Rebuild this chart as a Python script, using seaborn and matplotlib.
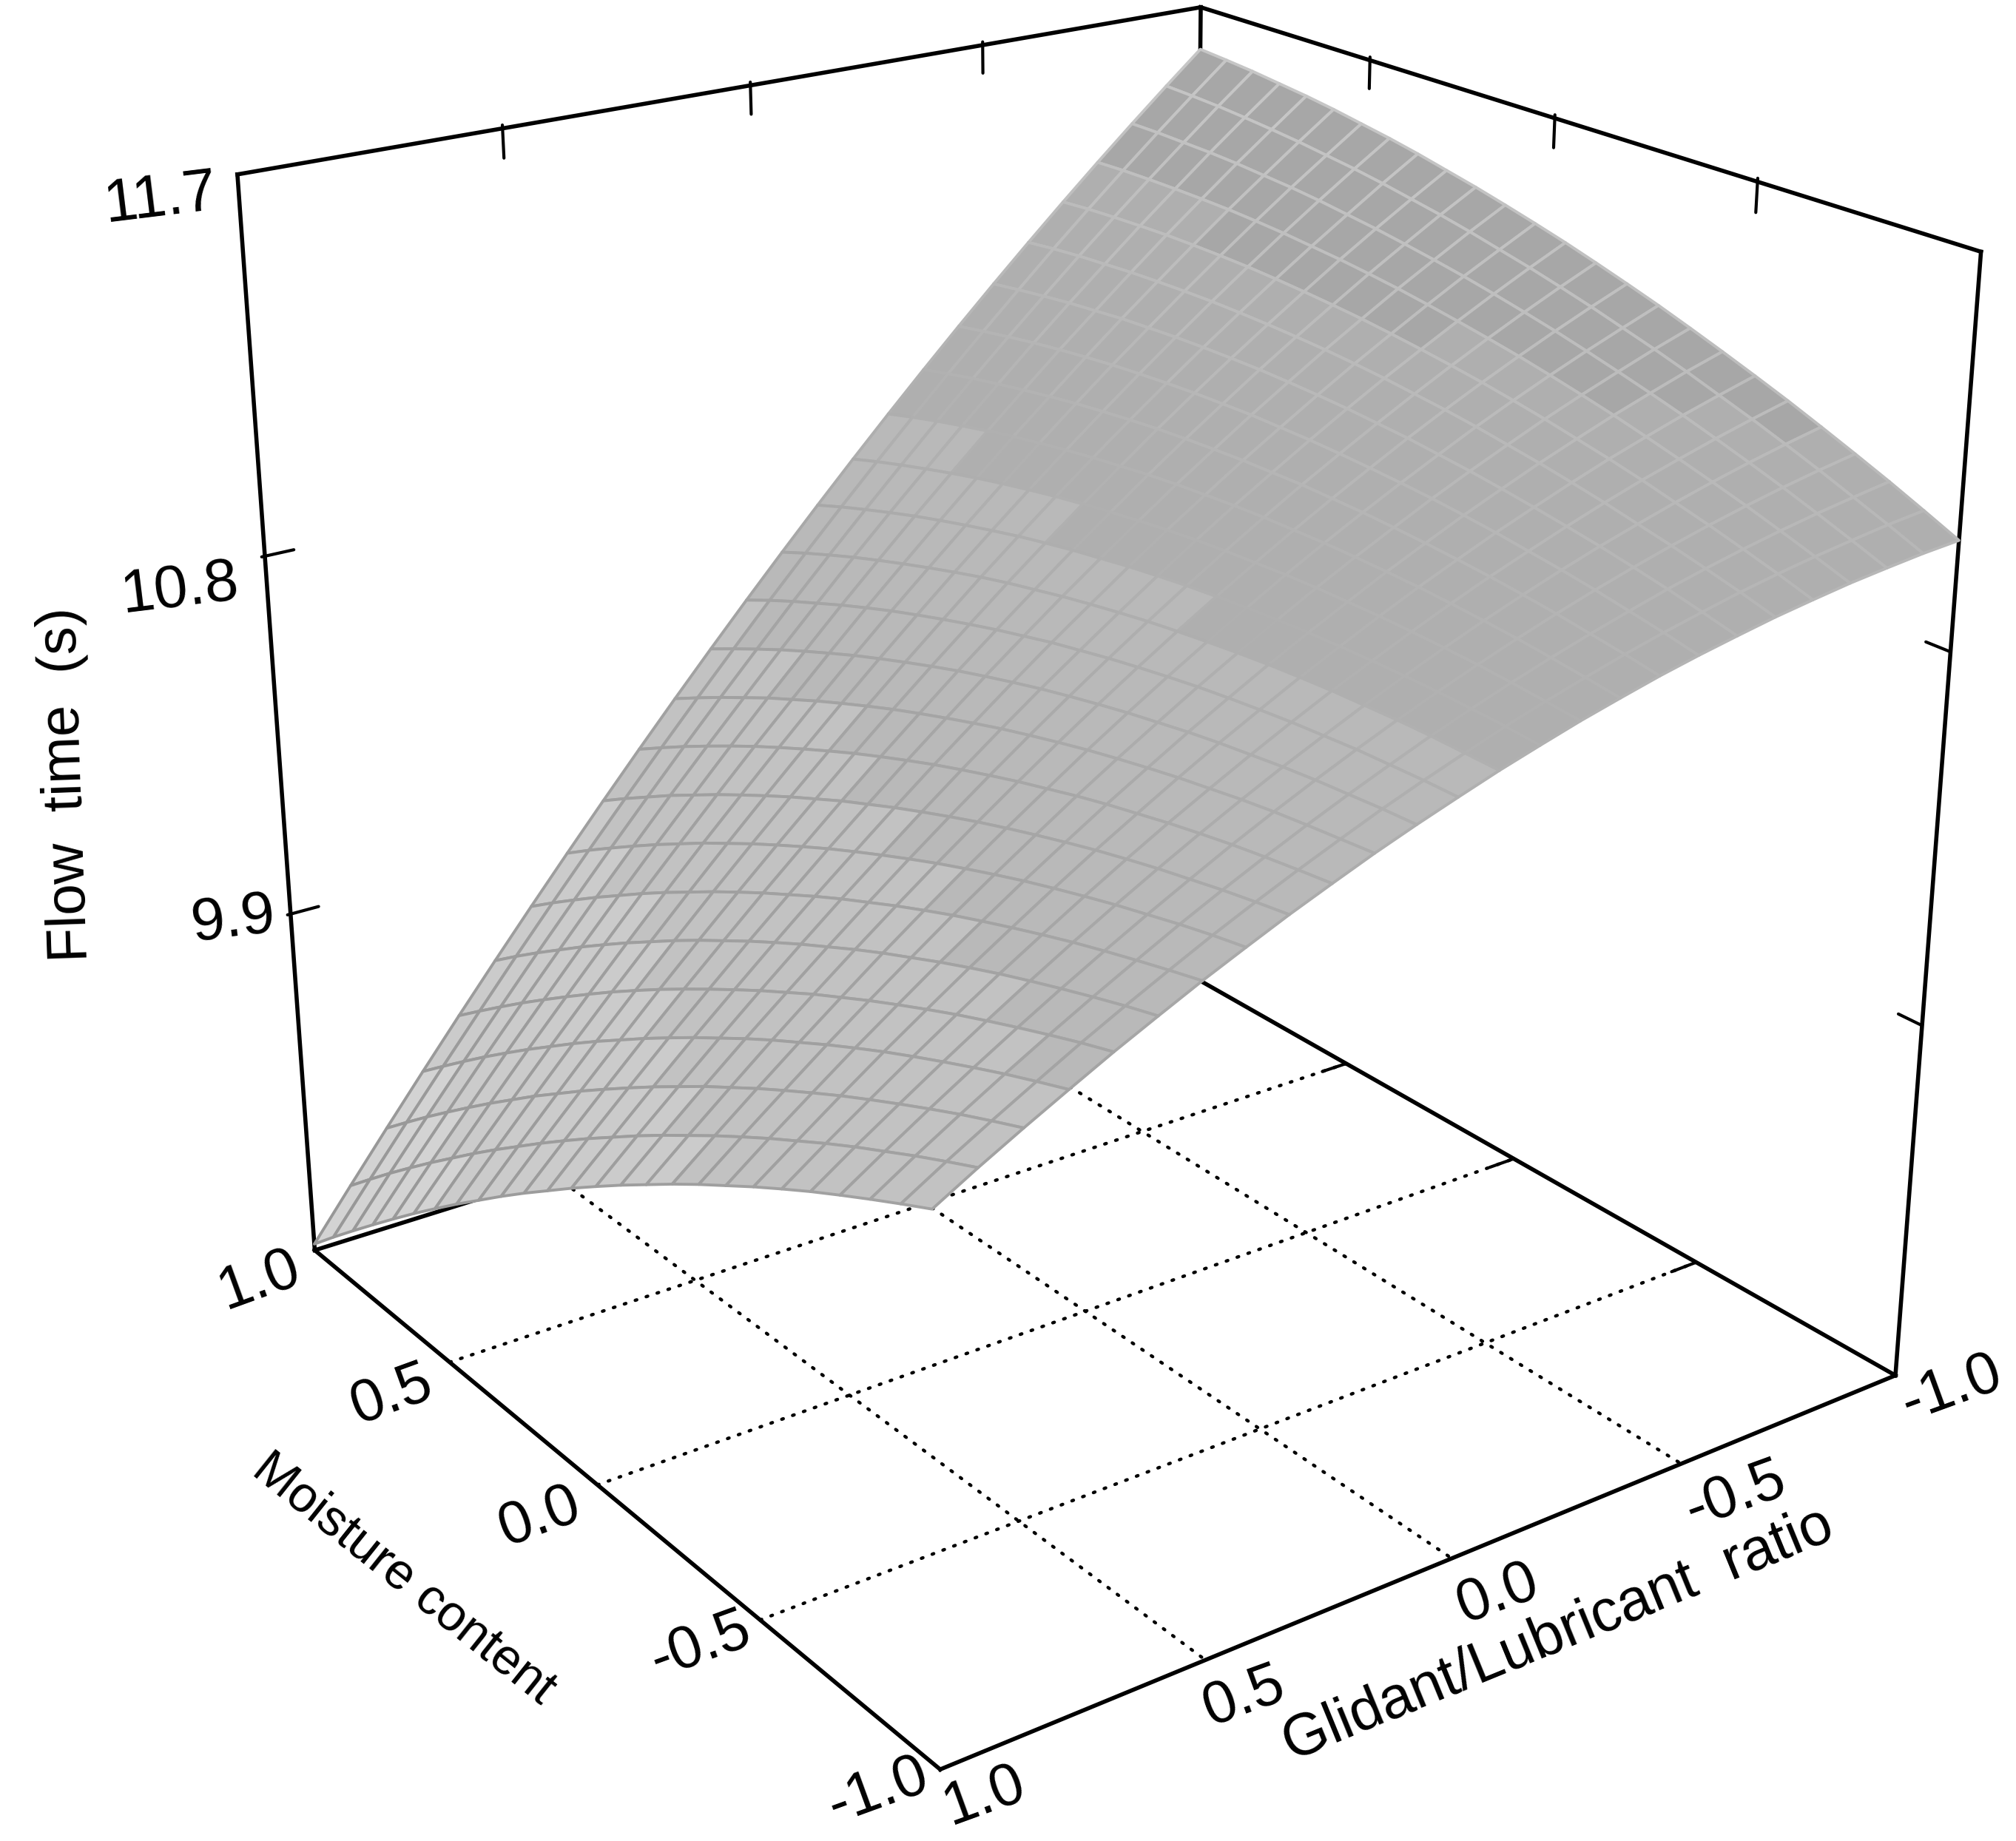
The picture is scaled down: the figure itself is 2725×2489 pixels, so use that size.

import numpy as np
import matplotlib
matplotlib.use('Agg')
import matplotlib.pyplot as plt
import seaborn as sns

sns.set_theme(style='white')
plt.rcParams['font.family'] = ['Liberation Sans', 'DejaVu Sans']

moisture = [1.00, 0.92, 0.84, 0.76, 0.68, 0.60, 0.52, 0.44, 0.36, 0.28, 0.20, 0.12, 0.04,
            -0.04, -0.12, -0.20, -0.28, -0.36, -0.44, -0.52, -0.60, -0.68, -0.76, -0.84, -0.92, -1.00]
glidant = [1.00, 0.92, 0.84, 0.76, 0.68, 0.60, 0.52, 0.44, 0.36, 0.28, 0.20, 0.12, 0.04,
           -0.04, -0.12, -0.20, -0.28, -0.36, -0.44, -0.52, -0.60, -0.68, -0.76, -0.84, -0.92, -1.00]
flow_time = [
 [9.017,9.144,9.269,9.392,9.513,9.632,9.749,9.864,9.977,10.088,10.197,10.304,10.409,10.512,10.613,10.712,10.809,10.904,10.997,11.088,11.177,11.264,11.349,11.432,11.513,11.592],
 [9.083,9.207,9.329,9.449,9.567,9.684,9.798,9.910,10.020,10.128,10.234,10.338,10.441,10.541,10.639,10.735,10.829,10.921,11.011,11.099,11.186,11.270,11.352,11.432,11.510,11.586],
 [9.147,9.269,9.388,9.505,9.620,9.734,9.845,9.954,10.061,10.167,10.270,10.371,10.471,10.568,10.663,10.756,10.848,10.937,11.024,11.109,11.193,11.274,11.353,11.430,11.506,11.579],
 [9.210,9.329,9.445,9.560,9.672,9.782,9.891,9.997,10.102,10.204,10.304,10.403,10.499,10.594,10.686,10.776,10.865,10.951,11.036,11.118,11.198,11.277,11.353,11.428,11.500,11.570],
 [9.272,9.388,9.501,9.613,9.722,9.830,9.935,10.039,10.140,10.240,10.338,10.433,10.527,10.618,10.708,10.795,10.881,10.964,11.046,11.125,11.203,11.279,11.352,11.424,11.493,11.561],
 [9.333,9.445,9.556,9.665,9.771,9.876,9.979,10.079,10.178,10.275,10.369,10.462,10.553,10.641,10.728,10.813,10.896,10.976,11.055,11.132,11.206,11.279,11.350,11.418,11.485,11.550],
 [9.392,9.502,9.609,9.715,9.819,9.921,10.021,10.119,10.214,10.308,10.400,10.490,10.578,10.663,10.747,10.829,10.909,10.987,11.063,11.136,11.208,11.278,11.346,11.412,11.475,11.537],
 [9.450,9.557,9.662,9.765,9.866,9.964,10.061,10.156,10.249,10.340,10.429,10.516,10.601,10.684,10.765,10.844,10.921,10.996,11.069,11.140,11.209,11.276,11.341,11.404,11.465,11.524],
 [9.506,9.610,9.712,9.813,9.911,10.007,10.101,10.193,10.283,10.371,10.457,10.541,10.623,10.704,10.782,10.858,10.932,11.004,11.074,11.142,11.208,11.272,11.334,11.394,11.453,11.509],
 [9.562,9.663,9.762,9.859,9.955,10.048,10.139,10.228,10.315,10.401,10.484,10.565,10.644,10.722,10.797,10.870,10.941,11.011,11.078,11.143,11.206,11.267,11.327,11.384,11.439,11.492],
 [9.616,9.714,9.810,9.905,9.997,10.087,10.176,10.262,10.347,10.429,10.509,10.588,10.664,10.738,10.811,10.881,10.950,11.016,11.080,11.143,11.203,11.261,11.318,11.372,11.425,11.475],
 [9.668,9.764,9.857,9.949,10.038,10.126,10.211,10.295,10.376,10.456,10.533,10.609,10.682,10.754,10.823,10.891,10.957,11.020,11.082,11.141,11.199,11.254,11.308,11.359,11.409,11.456],
 [9.720,9.812,9.903,9.992,10.078,10.163,10.246,10.326,10.405,10.482,10.556,10.629,10.700,10.768,10.835,10.900,10.962,11.023,11.081,11.138,11.193,11.245,11.296,11.345,11.391,11.436],
 [9.770,9.860,9.947,10.033,10.117,10.199,10.279,10.356,10.432,10.506,10.578,10.648,10.715,10.781,10.845,10.907,10.967,11.024,11.080,11.134,11.186,11.235,11.283,11.329,11.373,11.415],
 [9.819,9.906,9.991,10.074,10.154,10.233,10.310,10.385,10.458,10.529,10.598,10.665,10.730,10.793,10.854,10.913,10.970,11.025,11.077,11.128,11.177,11.224,11.269,11.312,11.353,11.392],
 [9.866,9.950,10.032,10.113,10.191,10.267,10.341,10.413,10.483,10.551,10.617,10.681,10.743,10.803,10.861,10.917,10.971,11.023,11.073,11.122,11.168,11.212,11.254,11.294,11.332,11.368],
 [9.913,9.994,10.073,10.150,10.225,10.299,10.370,10.439,10.506,10.571,10.635,10.696,10.755,10.812,10.867,10.921,10.972,11.021,11.068,11.113,11.157,11.198,11.237,11.274,11.309,11.343],
 [9.958,10.036,10.112,10.187,10.259,10.329,10.398,10.464,10.528,10.591,10.651,10.709,10.766,10.820,10.872,10.923,10.971,11.017,11.062,11.104,11.144,11.183,11.219,11.253,11.286,11.316],
 [10.001,10.077,10.150,10.222,10.291,10.359,10.424,10.488,10.549,10.609,10.666,10.722,10.775,10.827,10.876,10.923,10.969,11.012,11.054,11.093,11.131,11.166,11.200,11.231,11.261,11.288],
 [10.044,10.116,10.187,10.256,10.322,10.387,10.449,10.510,10.569,10.625,10.680,10.733,10.783,10.832,10.878,10.923,10.966,11.006,11.045,11.081,11.116,11.149,11.179,11.208,11.234,11.259],
 [10.085,10.155,10.222,10.288,10.352,10.414,10.473,10.531,10.587,10.641,10.692,10.742,10.790,10.836,10.879,10.921,10.961,10.999,11.034,11.068,11.100,11.130,11.157,11.183,11.207,11.229],
 [10.125,10.192,10.256,10.319,10.380,10.439,10.496,10.551,10.604,10.655,10.704,10.751,10.795,10.838,10.879,10.918,10.955,10.990,11.023,11.054,11.082,11.109,11.134,11.157,11.178,11.197],
 [10.163,10.227,10.289,10.349,10.407,10.463,10.517,10.569,10.619,10.668,10.714,10.758,10.800,10.840,10.878,10.914,10.948,10.980,11.010,11.038,11.064,11.088,11.110,11.130,11.148,11.164],
 [10.200,10.262,10.321,10.378,10.433,10.486,10.537,10.587,10.634,10.679,10.722,10.763,10.802,10.840,10.875,10.908,10.939,10.968,10.995,11.021,11.044,11.065,11.084,11.101,11.116,11.130],
 [10.236,10.295,10.351,10.405,10.458,10.508,10.556,10.603,10.647,10.689,10.729,10.768,10.804,10.838,10.871,10.901,10.929,10.956,10.980,11.002,11.023,11.041,11.057,11.071,11.084,11.094],
 [10.271,10.327,10.380,10.431,10.481,10.528,10.574,10.617,10.659,10.698,10.736,10.771,10.804,10.836,10.865,10.893,10.918,10.942,10.963,10.982,11.000,11.015,11.029,11.040,11.050,11.057],
]
grid_ticks = [0.5, 0.0, -0.5]
z_ticks = [9.9, 10.8, 11.7]
axis_tick_labels = ['1.0', '0.5', '0.0', '-0.5', '-1.0']
z_tick_labels = ['9.9', '10.8', '11.7']

W, H = 2725, 2489
Z_MIN, Z_MAX = 9.0, 11.7
fig = plt.figure(figsize=(W / 100, H / 100), dpi=100, facecolor='white')
ax = fig.add_axes([0.02953, 0.01467, 0.99077, 1.08472], projection='3d')
ax.set_xlim(-1, 1)
ax.set_ylim(-1, 1)
ax.set_zlim(Z_MIN, Z_MAX)
ax.view_init(22.81, 144.014, 0.01)
ax.set_proj_type('persp', focal_length=0.4365)
ax.set_box_aspect((1.0008, 0.9942, 1))
ax.set_axis_off()
ax.computed_zorder = False
ax.patch.set_alpha(0)

BOX_LW, TICK_LW, DOT_LW = 4.0, 3.0, 3.2
box_edges = [((1, 1, Z_MIN), (1, 1, Z_MAX)), ((-1, -1, Z_MIN), (-1, -1, Z_MAX)), ((1, -1, Z_MIN), (1, -1, Z_MAX)),
             ((1, 1, Z_MAX), (1, -1, Z_MAX)), ((1, -1, Z_MAX), (-1, -1, Z_MAX)),
             ((1, 1, Z_MIN), (-1, 1, Z_MIN)), ((-1, 1, Z_MIN), (-1, -1, Z_MIN)),
             ((-1, -1, Z_MIN), (1, -1, Z_MIN)), ((1, -1, Z_MIN), (1, 1, Z_MIN))]
for a, b in box_edges:
    ax.plot(*zip(a, b), color='black', lw=BOX_LW, zorder=1, solid_capstyle='projecting')

for t in grid_ticks:
    ax.plot([t, t], [1, -1], [Z_MIN, Z_MIN], color='black', lw=DOT_LW, dashes=(0.5, 3.0),
            dash_capstyle='round', zorder=1)
    ax.plot([1, -1], [t, t], [Z_MIN, Z_MIN], color='black', lw=DOT_LW, dashes=(0.5, 3.0),
            dash_capstyle='round', zorder=1)
    ax.plot([t, t], [-0.94, -1], [Z_MIN, Z_MIN], color='black', lw=TICK_LW, zorder=1)
    ax.plot([1, 1], [t, t], [Z_MAX + 0.008, Z_MAX - 0.07], color='black', lw=TICK_LW, zorder=1)
    ax.plot([t, t], [-1, -1], [Z_MAX + 0.008, Z_MAX - 0.07], color='black', lw=TICK_LW, zorder=1)
for z in z_ticks[:2]:
    ax.plot([1, 1], [1.006, 0.945], [z, z], color='black', lw=TICK_LW, zorder=1)
    ax.plot([-1.0, -0.945], [-1, -1], [z, z], color='black', lw=TICK_LW, zorder=1)

M, G = np.meshgrid(moisture, glidant, indexing='ij')
Zv = np.array(flow_time)
Mv = M[:-1, :-1] + (M[1:, :-1] - M[:-1, :-1]) / 2
cell = (Zv[:-1, :-1] + Zv[1:, :-1] + Zv[:-1, 1:] + Zv[1:, 1:]) / 4
bands = sns.color_palette(['#d3d3d3', '#cbcbcb', '#c2c2c2', '#b9b9b9', '#afafaf', '#a7a7a7'])
band_idx = np.digitize(cell, [9.45, 9.95, 10.4, 10.83, 99.0])
band_idx[(band_idx == 4) & (cell - 0.09 * Mv > 11.26)] = 5
face = np.array(bands)[band_idx]
edge_gray = np.interp(cell, [9.0, 10.4, 10.9, 11.6], [150, 163, 178, 200]) / 255
edge = np.stack([edge_gray, edge_gray, edge_gray, np.ones_like(edge_gray)], axis=-1).reshape(-1, 4)
surf = ax.plot_surface(M, G, Zv, rstride=1, cstride=1, facecolors=face, linewidth=2.8,
                       shade=False, antialiased=True, zorder=3)
surf.set_edgecolor(edge)


def label(x, y, s, size, rot):
    """Place a label at a position given in the 1568x1432 reading of the figure."""
    fig.text(x / 1568, 1 - y / 1432, s, fontsize=size, rotation=rot, ha='center', va='center',
             rotation_mode='anchor', color='black', family=['Liberation Sans', 'DejaVu Sans'])


for s, (x, y) in zip(z_tick_labels, [(181, 716), (140, 459), (125, 155)]):
    label(x, y, s, 59, 7)
for s, (x, y) in zip(axis_tick_labels, [(202, 996), (305, 1085), (420, 1180), (545, 1280), (683, 1393)]):
    label(x, y, s, 58, 20)
for s, (x, y) in zip(axis_tick_labels, [(766, 1397), (968, 1320), (1165, 1240), (1350, 1163), (1518, 1080)]):
    label(x, y, s, 58, 20)
label(314, 1228, 'Moisture content', 49, -38.6)
label(1212, 1272, 'Glidant/Lubricant  ratio', 57, 22.3)
label(52, 610, 'Flow  time  (s)', 55, 92)

fig.savefig('out.png', dpi=100)
